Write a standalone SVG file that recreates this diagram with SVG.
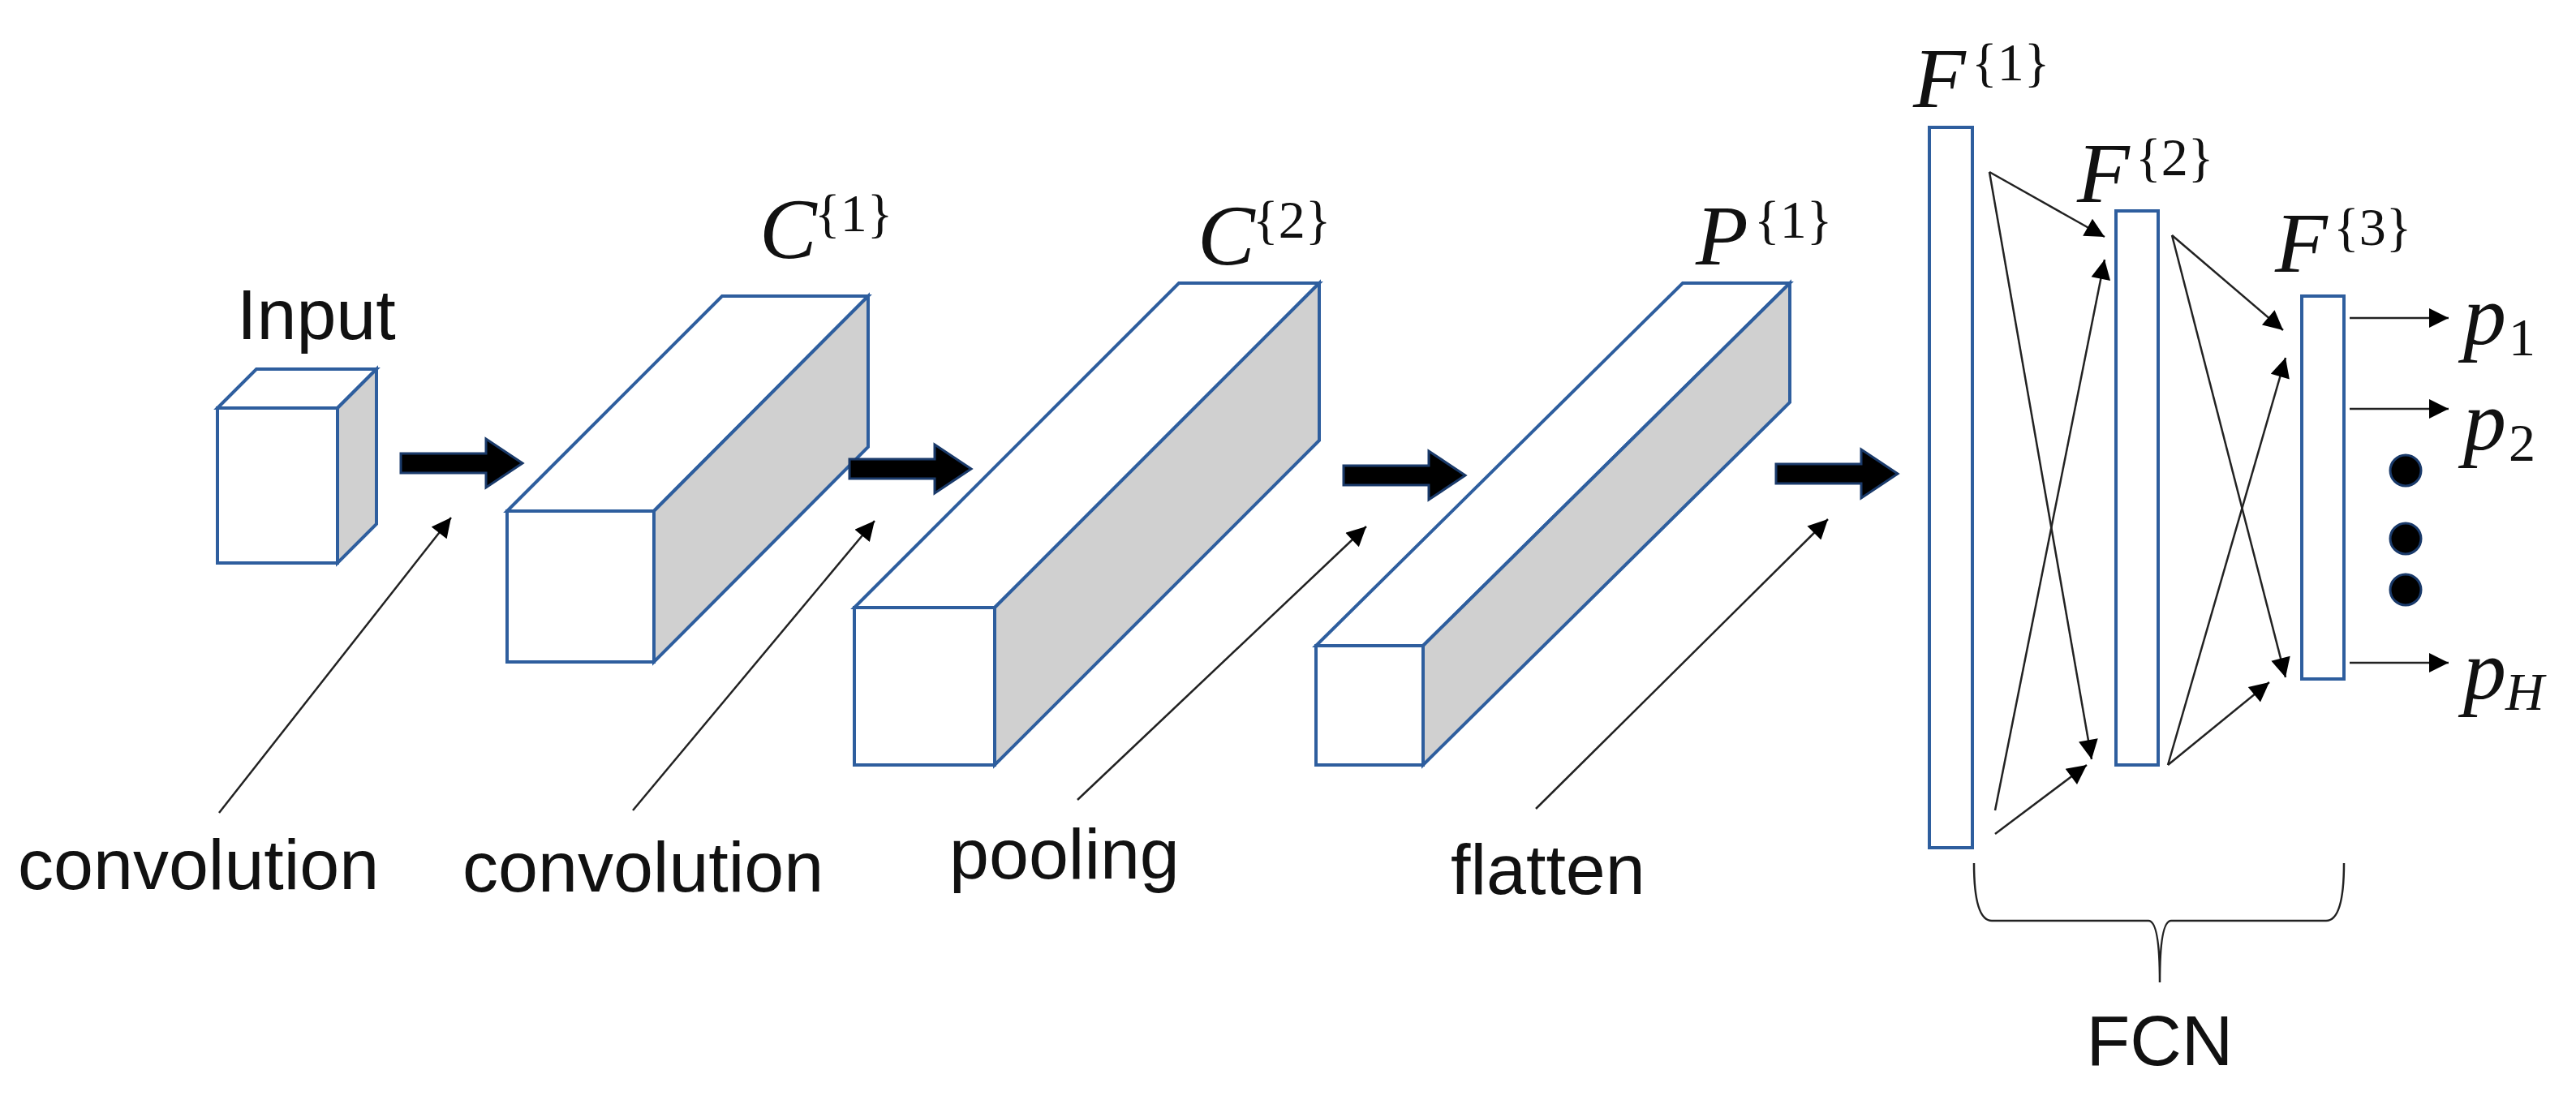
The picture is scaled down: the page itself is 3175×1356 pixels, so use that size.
<svg xmlns="http://www.w3.org/2000/svg" width="3175" height="1356" viewBox="0 0 3175 1356">
<style>
.b{stroke:#2e5e9e;stroke-width:4;stroke-linejoin:miter}
.w{fill:#fff}.g{fill:#d0d0d0}
.t{font-family:"Liberation Sans",Arial,sans-serif;font-size:88px;fill:#111}
.m{font-family:"Liberation Serif","Times New Roman",serif;font-style:italic;font-size:106px;fill:#111}
.s{font-family:"Liberation Serif","Times New Roman",serif;font-size:66px;fill:#111}
.ln{stroke:#222;stroke-width:2.5;fill:none}
</style>
<defs>
<marker id="ah" viewBox="0 0 10 10" refX="10" refY="5" markerWidth="28" markerHeight="24" orient="auto" markerUnits="userSpaceOnUse"><path d="M0,0L10,5L0,10z" fill="#000"/></marker>
<g id="big"><path d="M0,-12H105V-30L150,0L105,30V12H0z" fill="#000" stroke="#1a3a6a" stroke-width="3"/></g>
</defs>
<g id="input">
<path class="b w" d="M268,503L316,455H464L416,503z"/>
<path class="b g" d="M416,503L464,455V646L416,694z"/>
<rect class="b w" x="268" y="503" width="148" height="191"/>
<text class="t" x="292" y="418">Input</text>
</g>
<g id="c1">
<path class="b w" d="M625,630L890,365H1070L806,630z"/>
<path class="b g" d="M806,630L1070,365V551L806,816z"/>
<rect class="b w" x="625" y="630" width="181" height="186"/>
<text class="m" x="936" y="318">C</text><text class="s" x="1004" y="285">{1}</text>
</g>
<g id="c2">
<path class="b w" d="M1053,749L1453,349H1626L1226,749z"/>
<path class="b g" d="M1226,749L1626,349V543L1226,943z"/>
<rect class="b w" x="1053" y="749" width="173" height="194"/>
<text class="m" x="1476" y="326">C</text><text class="s" x="1544" y="293">{2}</text>
</g>
<g id="p1">
<path class="b w" d="M1622,796L2074,349H2206L1754,796z"/>
<path class="b g" d="M1754,796L2206,349V496L1754,943z"/>
<rect class="b w" x="1622" y="796" width="132" height="147"/>
<text class="m" x="2090" y="326">P</text><text class="s" x="2162" y="293">{1}</text>
</g>
<g id="f1"><rect class="b w" x="2378" y="157" width="53" height="888"/>
<text class="m" x="2358" y="132">F</text><text class="s" x="2430" y="99">{1}</text></g>
<g id="f2"><rect class="b w" x="2608" y="260" width="52" height="683"/>
<text class="m" x="2560" y="249">F</text><text class="s" x="2632" y="216">{2}</text></g>
<g id="f3"><rect class="b w" x="2837" y="365" width="52" height="472"/>
<text class="m" x="2804" y="335">F</text><text class="s" x="2876" y="302">{3}</text></g>
<g id="outputs">
<text class="m" x="3036" y="424">p</text><text class="s" x="3092" y="438">1</text>
<text class="m" x="3036" y="554">p</text><text class="s" x="3092" y="568">2</text>
<text class="m" x="3036" y="861">p</text><text class="s" x="3088" y="875" font-style="italic">H</text>
<circle cx="2965" cy="580" r="19" fill="#000" stroke="#1a3a6a" stroke-width="3"/>
<circle cx="2965" cy="664" r="19" fill="#000" stroke="#1a3a6a" stroke-width="3"/>
<circle cx="2965" cy="727" r="19" fill="#000" stroke="#1a3a6a" stroke-width="3"/>
</g>
<g id="labels">
<text class="t" x="22" y="1096">convolution</text>
<text class="t" x="570" y="1099">convolution</text>
<text class="t" x="1170" y="1083">pooling</text>
<text class="t" x="1788" y="1102">flatten</text>
<text class="t" x="2662" y="1313" text-anchor="middle">FCN</text>
</g>
<g id="connectors">
<use href="#big" x="494" y="571"/>
<use href="#big" x="1047" y="578"/>
<use href="#big" x="1656" y="586"/>
<use href="#big" x="2189" y="584"/>
<g class="ln" marker-end="url(#ah)">
<line x1="270" y1="1002" x2="556" y2="638"/>
<line x1="780" y1="999" x2="1078" y2="642"/>
<line x1="1328" y1="986" x2="1684" y2="649"/>
<line x1="1893" y1="997" x2="2253" y2="640"/>
<line x1="2452" y1="212" x2="2594" y2="292"/>
<line x1="2452" y1="212" x2="2578" y2="936"/>
<line x1="2459" y1="999" x2="2594" y2="320"/>
<line x1="2459" y1="1028" x2="2572" y2="943"/>
<line x1="2677" y1="290" x2="2814" y2="407"/>
<line x1="2677" y1="290" x2="2817" y2="835"/>
<line x1="2672" y1="943" x2="2817" y2="441"/>
<line x1="2672" y1="943" x2="2797" y2="841"/>
<line x1="2896" y1="392" x2="3018" y2="392"/>
<line x1="2896" y1="504" x2="3018" y2="504"/>
<line x1="2896" y1="817" x2="3018" y2="817"/>
</g>
<path class="ln" d="M2433,1064Q2433,1135 2455,1135H2648Q2662,1135 2662,1211Q2662,1135 2676,1135H2867Q2889,1135 2889,1064"/>
</g>
</svg>
